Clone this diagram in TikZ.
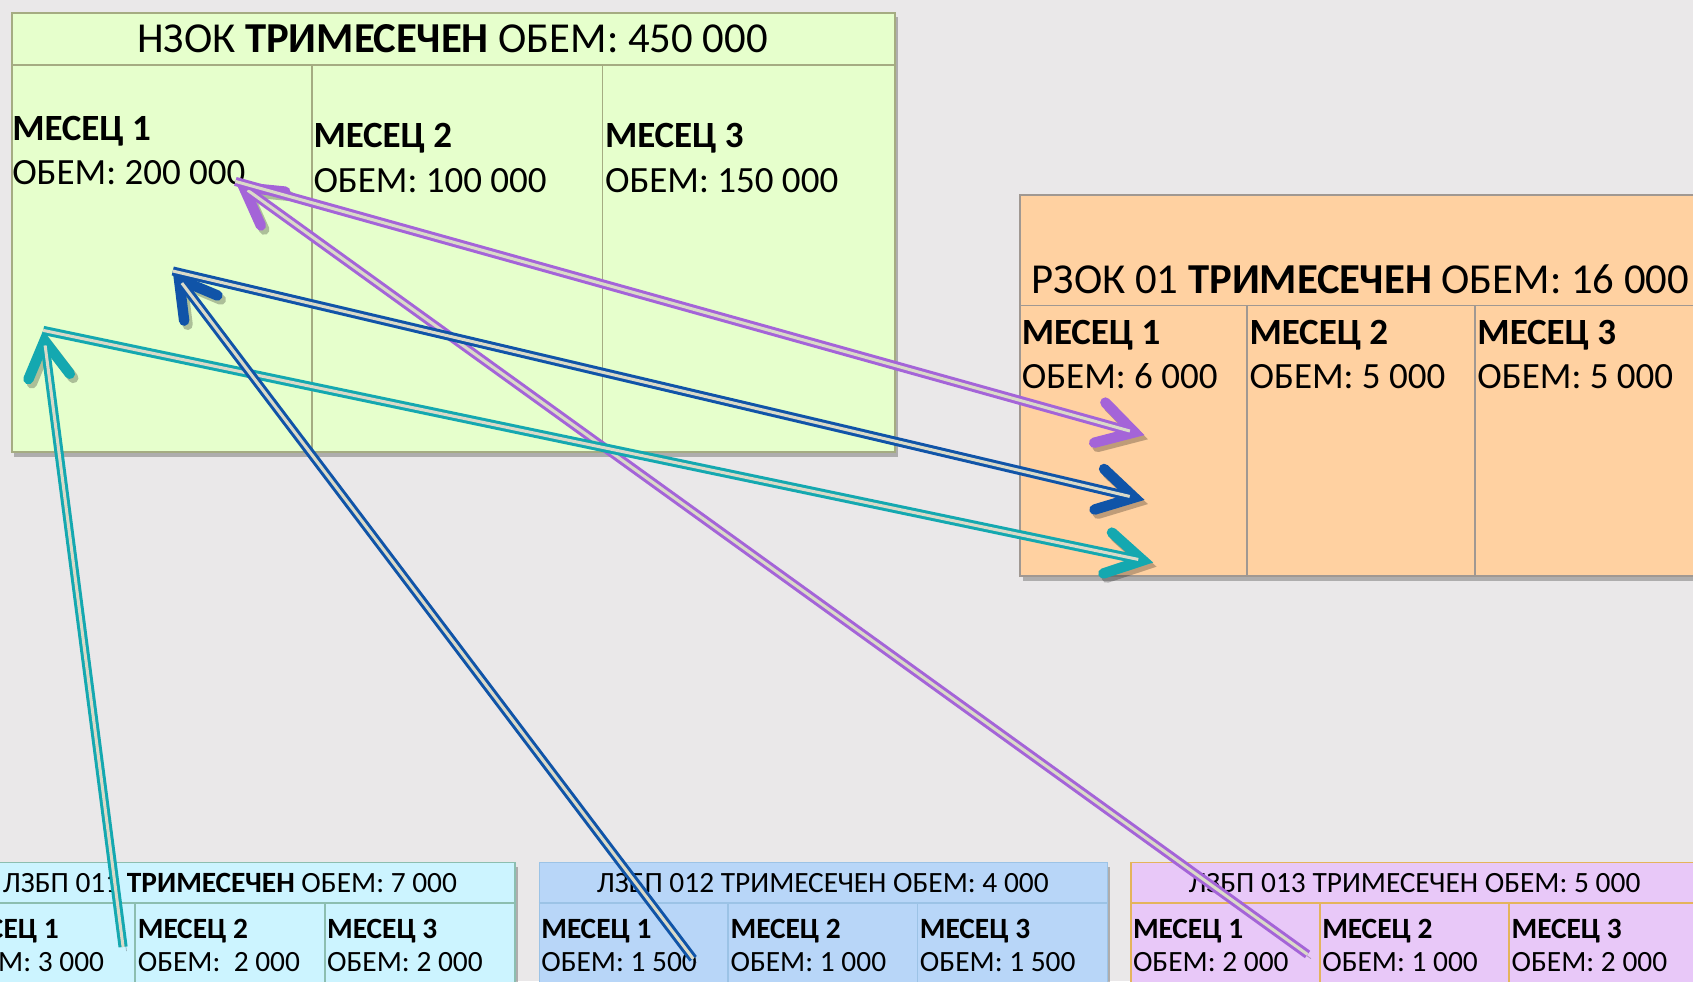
\documentclass[tikz,border=0pt]{standalone}
\usepackage{fontspec}
\setmainfont{Carlito}
\usetikzlibrary{arrows.meta,shadows}

\definecolor{bgGray}{RGB}{234,232,233}
\definecolor{nzokFill}{RGB}{230,255,204}
\definecolor{nzokLine}{RGB}{165,172,130}
\definecolor{rzokFill}{RGB}{255,209,161}
\definecolor{rzokLine}{RGB}{160,152,146}
\definecolor{cyanFill}{RGB}{204,244,255}
\definecolor{cyanLine}{RGB}{140,190,176}
\definecolor{blueFill}{RGB}{184,214,248}
\definecolor{blueLine}{RGB}{156,195,230}
\definecolor{violFill}{RGB}{232,200,248}
\definecolor{violLine}{RGB}{228,180,92}
\definecolor{arrViolet}{RGB}{164,100,216}
\definecolor{arrBlue}{RGB}{16,84,168}
\definecolor{arrTeal}{RGB}{20,168,176}
\definecolor{arrInner}{RGB}{218,218,200}

\newcommand{\hdrfont}{\fontsize{22.5pt}{27pt}\selectfont}
\newcommand{\colfont}{\fontsize{19.5pt}{23pt}\selectfont}
\newcommand{\lzfont}{\fontsize{15.5pt}{19pt}\selectfont}

\begin{document}
\begin{tikzpicture}[x=0.02cm, y=-0.02cm,
  box/.style={line width=0.9pt, anchor=north west, inner sep=0pt,
    drop shadow={shadow xshift=1.5pt, shadow yshift=-2.5pt, opacity=0.5, fill=black!55}},
  hdr/.style={anchor=base, inner sep=0pt, font=\hdrfont},
  colt/.style={anchor=base west, inner sep=0pt, font=\colfont},
  lzhdr/.style={anchor=base, inner sep=0pt, font=\lzfont},
  lzt/.style={anchor=base west, inner sep=0pt, font=\lzfont},
  conn/.style={draw=#1, line width=4.8pt,
    -{Straight Barb[length=19pt, width=22pt, line width=5.5pt, line cap=round, line join=miter]},
    preaction={draw=black, opacity=0.25, transform canvas={shift={(1.8pt,-2.2pt)}}},
    postaction={draw=arrInner, line width=1.6pt, arrows=-, shorten >=8pt}}]

\useasboundingbox (0,0) rectangle (1568,909);
\clip (0,0) rectangle (1568,909);
\fill[bgGray] (0,0) rectangle (1568,909);

% NZOK quarterly box
\node[box, fill=nzokFill, draw=nzokLine, minimum width=16.36cm, minimum height=8.14cm] (nzok) at (10,11) {};
\draw[nzokLine, line width=0.9pt] (10,60) -- (828,60);
\foreach \x in {289,558}{
  \draw[nzokLine, line width=0.9pt] (\x,60) -- (\x,418);
}
\node[hdr] (nzokTitle) at (419,49) {НЗОК \textbf{ТРИМЕСЕЧЕН} ОБЕМ: 450 000};
\node[colt] (nzokM1) at (11,130) {\textbf{МЕСЕЦ 1}};
\node[colt] (nzokV1) at (11,171) {ОБЕМ: 200 000};
\foreach \x/\n/\v in {290/2/100 000, 560/3/150 000}{
  \node[colt] (nzokM\n) at (\x,137) {\textbf{МЕСЕЦ \n}};
  \node[colt] (nzokV\n) at (\x,178) {ОБЕМ: \v};
}

% RZOK 01 box
\node[box, fill=rzokFill, draw=rzokLine, minimum width=12.66cm, minimum height=7.06cm] (rzok) at (944,180) {};
\draw[rzokLine, line width=0.9pt] (944,283) -- (1577,283);
\foreach \x in {1155,1366}{
  \draw[rzokLine, line width=0.9pt] (\x,283) -- (\x,533);
}
\node[hdr] (rzokTitle) at (1260,272) {РЗОК 01 \textbf{ТРИМЕСЕЧЕН} ОБЕМ: 16 000};
\foreach \x/\n/\v in {946/1/6 000, 1157/2/5 000, 1368/3/5 000}{
  \node[colt] (rzokM\n) at (\x,319) {\textbf{МЕСЕЦ \n}};
  \node[colt] (rzokV\n) at (\x,360) {ОБЕМ: \v};
}

% LZBP boxes along the bottom
\foreach \x/\n/\fc/\lc/\ttl/\va/\vb/\vc in {
  -50/1/cyanFill/cyanLine/{ЛЗБП 011 \textbf{ТРИМЕСЕЧЕН} ОБЕМ: 7 000}/3 000/{\ 2 000}/2 000,
  499/2/blueFill/blueLine/{ЛЗБП 012 ТРИМЕСЕЧЕН ОБЕМ: 4 000}/1 500/1 000/1 500,
  1047/3/violFill/violLine/{ЛЗБП 013 ТРИМЕСЕЧЕН ОБЕМ: 5 000}/2 000/1 000/2 000}{
  \node[box, fill=\fc, draw=\lc, minimum width=10.52cm, minimum height=3.04cm] (lzbp\n) at (\x,798) {};
  \draw[\lc, line width=0.9pt] (\x,836) -- (\x+526,836);
  \draw[\lc, line width=0.9pt] (\x+175.3,836) -- (\x+175.3,950);
  \draw[\lc, line width=0.9pt] (\x+350.7,836) -- (\x+350.7,950);
  \node[lzhdr] (lzbpTitle\n) at (\x+263,827) {\ttl};
  \node[lzt] (lzbpM\n a) at (\x+2,869) {\textbf{МЕСЕЦ 1}};
  \node[lzt] (lzbpV\n a) at (\x+2,900) {ОБЕМ: \va};
  \node[lzt] (lzbpM\n b) at (\x+177.3,869) {\textbf{МЕСЕЦ 2}};
  \node[lzt] (lzbpV\n b) at (\x+177.3,900) {ОБЕМ: \vb};
  \node[lzt] (lzbpM\n c) at (\x+352.7,869) {\textbf{МЕСЕЦ 3}};
  \node[lzt] (lzbpV\n c) at (\x+352.7,900) {ОБЕМ: \vc};
}

% arrow ends
\coordinate (nzokPtV) at (218,168);
\coordinate (nzokPtB) at (160,251);
\coordinate (nzokPtT) at (40,306);
\coordinate (rzokPtV) at (1060,403);
\coordinate (rzokPtB) at (1060,463);
\coordinate (rzokPtT) at (1068,521);
\coordinate (lzbpPtV) at (1211,884);
\coordinate (lzbpPtB) at (642,888);
\coordinate (lzbpPtT) at (114,877);

% LZBP -> NZOK -> RZOK
\draw[conn=arrViolet] (lzbpPtV) -- (nzokPtV);
\draw[conn=arrViolet] (nzokPtV) -- (rzokPtV);
\draw[conn=arrTeal] (lzbpPtT) -- (nzokPtT);
\draw[conn=arrTeal] (nzokPtT) -- (rzokPtT);
\draw[conn=arrBlue] (lzbpPtB) -- (nzokPtB);
\draw[conn=arrBlue] (nzokPtB) -- (rzokPtB);

\end{tikzpicture}
\end{document}
